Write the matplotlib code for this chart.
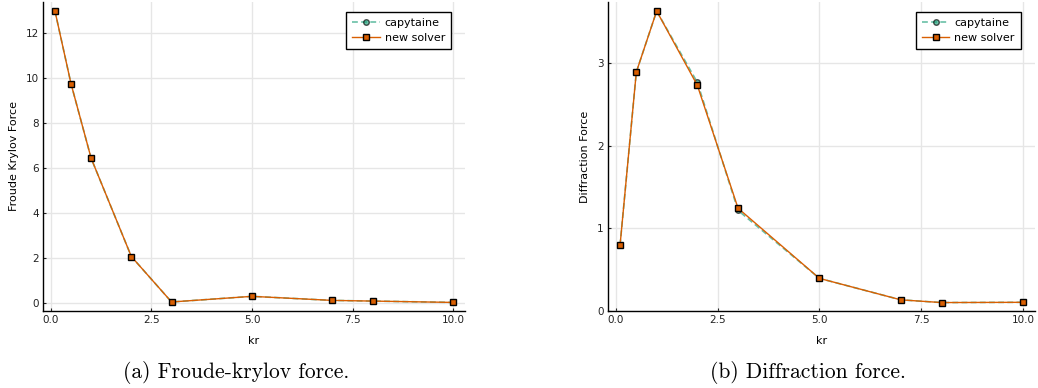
import matplotlib.pyplot as plt

# wave number times radius
kr = [0.1, 0.5, 1.0, 2.0, 3.0, 5.0, 7.0, 8.0, 10.0]

fk_capytaine = [13.0, 9.76, 6.45, 2.08, 0.06, 0.31, 0.13, 0.10, 0.04]
fk_new_solver = [13.0, 9.76, 6.45, 2.08, 0.06, 0.31, 0.13, 0.10, 0.04]

diff_capytaine = [0.79, 2.89, 3.63, 2.765, 1.214, 0.39, 0.13, 0.097, 0.10]
diff_new_solver = [0.79, 2.89, 3.63, 2.73, 1.24, 0.39, 0.13, 0.097, 0.10]

TEAL = "#1b9e77"
ORANGE = "#d95f02"
GRID = "#e6e6e6"


def draw_panel(ax, x, y_ref, y_new, ylabel, xlim, ylim, yticks):
    ax.plot(
        x, y_ref, linestyle=(0, (3.5, 2.0)), color=TEAL, alpha=0.65, lw=1.2,
        marker="o", markersize=4, markerfacecolor=TEAL, markeredgecolor="black",
        markeredgewidth=1.0, label="capytaine",
    )
    ax.plot(
        x, y_new, linestyle="-", color=ORANGE, lw=1.0,
        marker="s", markersize=4.5, markerfacecolor=ORANGE, markeredgecolor="black",
        markeredgewidth=1.0, label="new solver",
    )

    ax.set_xlim(*xlim)
    ax.set_ylim(*ylim)
    ax.set_xticks([0.0, 2.5, 5.0, 7.5, 10.0])
    ax.set_xticklabels(["0.0", "2.5", "5.0", "7.5", "10.0"])
    ax.set_yticks(yticks)
    ax.set_yticklabels([str(t) for t in yticks])

    ax.grid(True, color=GRID, lw=1.0)
    ax.set_axisbelow(True)
    for side in ("top", "right"):
        ax.spines[side].set_visible(False)
    for side in ("left", "bottom"):
        ax.spines[side].set_linewidth(1.0)
        ax.spines[side].set_color("black")
    ax.tick_params(direction="in", length=2.5, width=0.8, labelsize=7.5,
                   colors="#222222", pad=3)

    ax.set_xlabel("kr", fontsize=8, labelpad=8)
    ax.set_ylabel(ylabel, fontsize=8, labelpad=5)

    leg = ax.legend(
        loc="upper right", bbox_to_anchor=(0.967, 0.967), fontsize=8,
        fancybox=False, edgecolor="black", framealpha=1.0, borderaxespad=0,
        handlelength=2.5, handletextpad=0.45, borderpad=0.55, labelspacing=0.4,
    )
    leg.get_frame().set_linewidth(1.0)


fig = plt.figure(figsize=(10.38, 3.88), dpi=100)

ax_fk = fig.add_axes([0.0414, 0.1985, 0.4066, 0.7964])
ax_diff = fig.add_axes([0.5857, 0.1985, 0.4114, 0.7964])

draw_panel(ax_fk, kr, fk_capytaine, fk_new_solver, "Froude Krylov Force",
           (-0.197, 10.297), (-0.34, 13.39), [0, 2, 4, 6, 8, 10, 12])
draw_panel(ax_diff, kr, diff_capytaine, diff_new_solver, "Diffraction Force",
           (-0.197, 10.297), (-0.005, 3.74), [0, 1, 2, 3])

caption_font = dict(family="cmr10", fontsize=15.5, ha="center", va="center")
fig.text(0.2274, 0.04, "(a) Froude-krylov force.", **caption_font)
fig.text(0.7786, 0.04, "(b) Diffraction force.", **caption_font)

fig.savefig("out.png", dpi=100)
